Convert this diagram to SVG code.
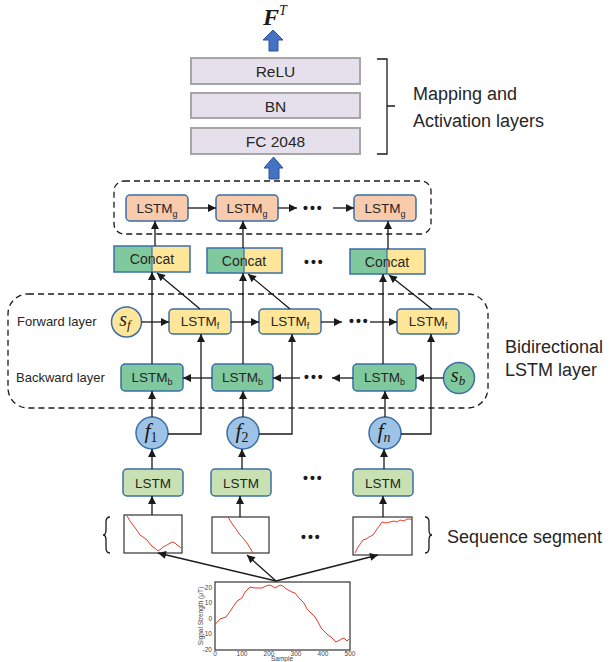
<svg xmlns="http://www.w3.org/2000/svg" width="611" height="662" viewBox="0 0 611 662">
<style>
.t{font-family:"Liberation Sans",Arial,sans-serif;fill:#262626}
.m{font-family:"Liberation Serif","Times New Roman",serif;fill:#1a1a1a}
.top{fill:#e6e0ec;stroke:#a6a6a6;stroke-width:2}
.g{fill:#f8cbad;stroke:#3b6ea8;stroke-width:1.5}
.fw{fill:#ffe699;stroke:#3b6ea8;stroke-width:1.5}
.bw{fill:#80c99e;stroke:#3b6ea8;stroke-width:1.5}
.ls{fill:#c8e0b2;stroke:#3b6ea8;stroke-width:1.5}
.ci{fill:#9dc3e6;stroke:#3b6ea8;stroke-width:1.5}
.ln{stroke:#1a1a1a;stroke-width:1.3;fill:none}
.ar{marker-end:url(#ah)}
.dash{fill:none;stroke:#1a1a1a;stroke-width:1.3;stroke-dasharray:6 4}
.sig{fill:none;stroke:#e0402a;stroke-width:1}
.plot{fill:#fff;stroke:#333;stroke-width:1.2}
.blk{fill:#4472c4;stroke:#2f528f;stroke-width:1}
.dots{font-family:"Liberation Sans",Arial,sans-serif;font-size:14px;letter-spacing:2px;fill:#1a1a1a;font-weight:bold}
.ax{font-family:"Liberation Sans",Arial,sans-serif;font-size:6.5px;fill:#444}
</style>
<defs>
<marker id="ah" viewBox="0 0 10 10" refX="10" refY="5" markerWidth="9" markerHeight="8" markerUnits="userSpaceOnUse" orient="auto"><path d="M0,0 L10,5 L0,10 z" fill="#1a1a1a"/></marker>
</defs>
<rect width="611" height="662" fill="#fff"/>

<!-- output -->
<g id="output">
<text x="263" y="25" class="m" font-size="24" font-weight="bold" font-style="italic">F<tspan font-size="14" font-weight="normal" dy="-10">T</tspan></text>
<polygon class="blk" points="273,30 283,40 278,40 278,51 269,51 269,40 263,40"/>
</g>

<g id="relu"><rect class="top" x="191" y="58" width="169" height="26"/><text class="t" x="275.5" y="76.5" font-size="15.5" text-anchor="middle">ReLU</text></g>
<g id="bn"><rect class="top" x="191" y="93" width="169" height="25"/><text class="t" x="275.5" y="111.5" font-size="15.5" text-anchor="middle">BN</text></g>
<g id="fc"><rect class="top" x="191" y="128" width="169" height="26"/><text class="t" x="275.5" y="146.5" font-size="15.5" text-anchor="middle">FC 2048</text></g>
<g id="arrow2"><polygon class="blk" points="273.5,157 283,168 279,168 279,179 269,179 269,168 264,168"/></g>

<g id="mapping-label">
<path class="ln" d="M377,59 H387 V154 H377 M387,106 H395"/>
<text class="t" x="413" y="100" font-size="18">Mapping and</text>
<text class="t" x="413" y="127" font-size="18">Activation layers</text>
</g>

<!-- LSTM_g group -->
<g id="global-box"><rect class="dash" x="114" y="181" width="317" height="53" rx="10"/></g>
<g id="lstmg1"><rect class="g" x="126" y="195" width="62" height="26" rx="4"/><text class="t" x="157" y="213" font-size="13.5" text-anchor="middle">LSTM<tspan font-size="9" dy="4">g</tspan></text></g>
<g id="lstmg2"><rect class="g" x="216" y="195" width="62" height="26" rx="4"/><text class="t" x="247" y="213" font-size="13.5" text-anchor="middle">LSTM<tspan font-size="9" dy="4">g</tspan></text></g>
<g id="lstmg3"><rect class="g" x="354" y="195" width="62" height="26" rx="4"/><text class="t" x="385" y="213" font-size="13.5" text-anchor="middle">LSTM<tspan font-size="9" dy="4">g</tspan></text></g>
<text class="dots" x="303" y="212.5">•••</text>

<!-- Concat -->
<g id="concat1"><rect x="114" y="246" width="38" height="26" fill="#80c99e"/><rect x="152" y="246" width="38" height="26" fill="#ffe699"/><rect x="114" y="246" width="76" height="26" fill="none" stroke="#3b6ea8" stroke-width="1.5"/><line x1="152" y1="246" x2="152" y2="272" stroke="#3b6ea8" stroke-width="1.2"/><text class="t" x="152" y="264" font-size="14" text-anchor="middle">Concat</text></g>
<g id="concat2"><rect x="207" y="248" width="37" height="25" fill="#80c99e"/><rect x="244" y="248" width="38" height="25" fill="#ffe699"/><rect x="207" y="248" width="75" height="25" fill="none" stroke="#3b6ea8" stroke-width="1.5"/><line x1="244" y1="248" x2="244" y2="273" stroke="#3b6ea8" stroke-width="1.2"/><text class="t" x="244" y="266" font-size="14" text-anchor="middle">Concat</text></g>
<g id="concat3"><rect x="350" y="249" width="37" height="25" fill="#80c99e"/><rect x="387" y="249" width="38" height="25" fill="#ffe699"/><rect x="350" y="249" width="75" height="25" fill="none" stroke="#3b6ea8" stroke-width="1.5"/><line x1="387" y1="249" x2="387" y2="274" stroke="#3b6ea8" stroke-width="1.2"/><text class="t" x="387" y="267" font-size="14" text-anchor="middle">Concat</text></g>
<text class="dots" x="304" y="266.5">•••</text>

<!-- Bidirectional -->
<g id="bidir-box"><rect class="dash" x="8" y="294" width="480" height="114" rx="20"/></g>
<text class="t" x="17" y="326" font-size="13">Forward layer</text>
<text class="t" x="16" y="382" font-size="13">Backward layer</text>
<g id="bidir-label">
<text class="t" x="505" y="353" font-size="18">Bidirectional</text>
<text class="t" x="505" y="376" font-size="18">LSTM layer</text>
</g>

<g id="sf"><circle class="fw" cx="126.5" cy="322" r="15"/><text class="m" x="125" y="326" font-size="20" font-style="italic" text-anchor="middle">s<tspan font-size="13" dy="3">f</tspan></text></g>
<g id="sb"><circle class="bw" cx="459" cy="378" r="15.5"/><text class="m" x="458" y="382" font-size="20" font-style="italic" text-anchor="middle">s<tspan font-size="13" dy="3">b</tspan></text></g>

<g id="lstmf1"><rect class="fw" x="169" y="309" width="62" height="25" rx="4"/><text class="t" x="200" y="326" font-size="13.5" text-anchor="middle">LSTM<tspan font-size="9" dy="3">f</tspan></text></g>
<g id="lstmf2"><rect class="fw" x="259" y="309" width="62" height="25" rx="4"/><text class="t" x="290" y="326" font-size="13.5" text-anchor="middle">LSTM<tspan font-size="9" dy="3">f</tspan></text></g>
<g id="lstmf3"><rect class="fw" x="397" y="309" width="62" height="25" rx="4"/><text class="t" x="428" y="326" font-size="13.5" text-anchor="middle">LSTM<tspan font-size="9" dy="3">f</tspan></text></g>
<text class="dots" x="349" y="326">•••</text>

<g id="lstmb1"><rect class="bw" x="121" y="364" width="62" height="27" rx="4"/><text class="t" x="152" y="382" font-size="13.5" text-anchor="middle">LSTM<tspan font-size="9" dy="3">b</tspan></text></g>
<g id="lstmb2"><rect class="bw" x="212" y="364" width="61" height="27" rx="4"/><text class="t" x="242.5" y="382" font-size="13.5" text-anchor="middle">LSTM<tspan font-size="9" dy="3">b</tspan></text></g>
<g id="lstmb3"><rect class="bw" x="353" y="364" width="63" height="27" rx="4"/><text class="t" x="384.5" y="382" font-size="13.5" text-anchor="middle">LSTM<tspan font-size="9" dy="3">b</tspan></text></g>
<text class="dots" x="304" y="382">•••</text>

<!-- features -->
<g id="f1"><circle class="ci" cx="152" cy="433" r="16"/><text class="m" x="151" y="438" font-size="22" text-anchor="middle"><tspan font-style="italic">f</tspan><tspan font-size="14" dy="4">1</tspan></text></g>
<g id="f2"><circle class="ci" cx="243" cy="433" r="16"/><text class="m" x="242" y="438" font-size="22" text-anchor="middle"><tspan font-style="italic">f</tspan><tspan font-size="14" dy="4">2</tspan></text></g>
<g id="fn"><circle class="ci" cx="385" cy="433" r="16"/><text class="m" x="384" y="438" font-size="22" text-anchor="middle"><tspan font-style="italic">f</tspan><tspan font-size="14" font-style="italic" dy="4">n</tspan></text></g>

<g id="lstm1"><rect class="ls" x="123" y="469" width="60" height="27" rx="4"/><text class="t" x="153" y="487.5" font-size="13.5" text-anchor="middle">LSTM</text></g>
<g id="lstm2"><rect class="ls" x="211" y="469" width="60" height="27" rx="4"/><text class="t" x="241" y="487.5" font-size="13.5" text-anchor="middle">LSTM</text></g>
<g id="lstm3"><rect class="ls" x="353" y="469" width="60" height="27" rx="4"/><text class="t" x="383" y="487.5" font-size="13.5" text-anchor="middle">LSTM</text></g>
<text class="dots" x="303" y="482.5">•••</text>

<!-- segments -->
<g id="seg1"><rect class="plot" x="124" y="515" width="58" height="38"/><polyline class="sig" points="127,516 130,521 133,525 136,529 140,535 143,537 147,540 150,544 153,547 156,549 158,551 161,549 163,547 167,545 172,542 175,543 177,545 180,547 182,549"/></g>
<g id="seg2"><rect class="plot" x="212" y="517" width="57" height="36"/><polyline class="sig" points="228,517 231,522 233,525 236,529 240,535 243,538 247,543 250,548 253,553"/></g>
<g id="seg3"><rect class="plot" x="353" y="517" width="59" height="38"/><polyline class="sig" points="355,553 358,547 361,543 363,540 366,539 369,537 373,535 377,529 380,525 382,522 386,523 390,522 394,521 397,522 400,520 404,521 407,519 410,519 412,520"/></g>
<text class="dots" x="301" y="541.5">•••</text>

<g id="seq-label">
<path class="ln" d="M110,517 Q106,517 106,522 V530 Q106,535 103,535 Q106,535 106,540 V548 Q106,553 110,553"/>
<path class="ln" d="M425,517 Q429,517 429,522 V530 Q429,535 432,535 Q429,535 429,540 V548 Q429,553 425,553"/>
<text class="t" x="447" y="543" font-size="18">Sequence segment</text>
</g>

<!-- full signal plot -->
<g id="signal">
<rect class="plot" x="215" y="582" width="135" height="68"/>
<polyline class="sig" points="215.5,624 220,619 226,617 231,610 237,601 242,598 245,592 248,589 250,587 255,588 259,588 262,588 266,586 269,585 272,586 275,588 277,587 280,585 283,586 285,588 288,590 292,592 295,593 299,598 304,603 307,609 310,612 315,617 318,622 320,626 322,629 325,632 328,635 331,637 334,640 336,642 338,641 340,640 343,638 345,639 347,641 349,639"/>
<g class="ax" text-anchor="end">
<text x="212" y="589.5">20</text><text x="212" y="605">10</text><text x="212" y="620.5">0</text><text x="212" y="636">-10</text><text x="212" y="651.5">-20</text>
</g>
<g class="ax" text-anchor="middle">
<text x="215" y="655.5">0</text><text x="242" y="655.5">100</text><text x="269" y="655.5">200</text><text x="296" y="655.5">300</text><text x="323" y="655.5">400</text><text x="350" y="655.5">500</text>
</g>
<text class="ax" x="282" y="661" font-size="7" text-anchor="middle">Sample</text>
<text class="ax" font-size="6" text-anchor="middle" transform="translate(203,616) rotate(-90)">Signal Strength (μT)</text>
</g>

<!-- connectors -->
<g id="connectors">
<path class="ln ar" d="M188,208 H216"/>
<path class="ln ar" d="M278,208 H297"/>
<path class="ln ar" d="M333,208 H354"/>
<path class="ln ar" d="M155,246 V221"/>
<path class="ln ar" d="M243,248 V221"/>
<path class="ln ar" d="M388,249 V221"/>
<path class="ln ar" d="M152,364 V272"/>
<path class="ln ar" d="M243,364 V273"/>
<path class="ln ar" d="M383,364 V274"/>
<path class="ln ar" d="M200,309 L157,273"/>
<path class="ln ar" d="M290,309 L248,274"/>
<path class="ln ar" d="M432,309 L389,275"/>
<path class="ln ar" d="M141.5,322 H169"/>
<path class="ln ar" d="M231,322 H259"/>
<path class="ln ar" d="M321,322 H342"/>
<path class="ln ar" d="M370,322 H397"/>
<path class="ln ar" d="M443.5,378 H416"/>
<path class="ln ar" d="M353,378 H332"/>
<path class="ln ar" d="M300,378 H273"/>
<path class="ln ar" d="M212,378 H183"/>
<path class="ln ar" d="M152,417 V391"/>
<path class="ln ar" d="M243,417 V391"/>
<path class="ln ar" d="M385,417 V391"/>
<path class="ln ar" d="M168,434 H201 V334"/>
<path class="ln ar" d="M259,434 H292 V334"/>
<path class="ln ar" d="M401,434 H431 V334"/>
<path class="ln ar" d="M152,469 V449"/>
<path class="ln ar" d="M242,469 V449"/>
<path class="ln ar" d="M384,469 V449"/>
<path class="ln ar" d="M152,515 V496"/>
<path class="ln ar" d="M240,517 V496"/>
<path class="ln ar" d="M383,517 V496"/>
<path class="ln ar" d="M276,581 L158,553"/>
<path class="ln ar" d="M276,581 L247,555"/>
<path class="ln ar" d="M276,581 L378,555"/>
</g>
</svg>
